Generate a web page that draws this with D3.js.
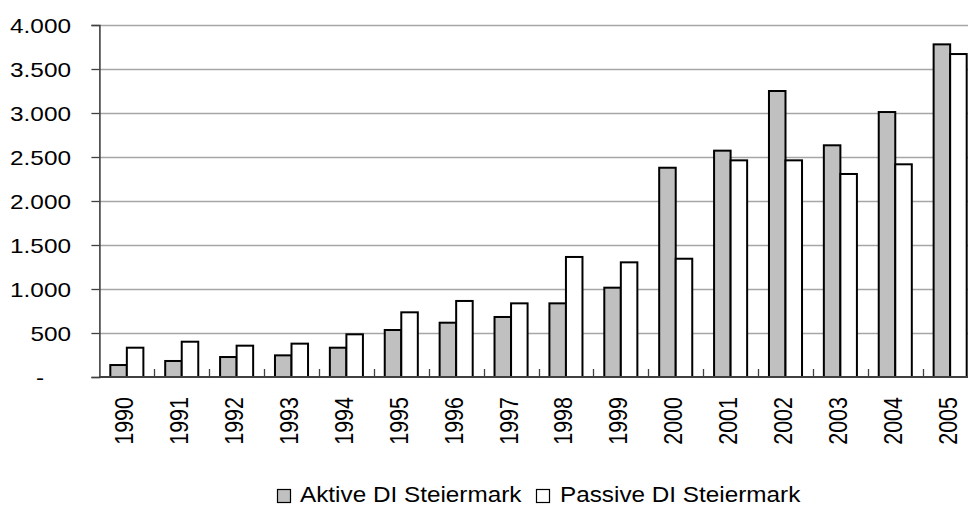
<!DOCTYPE html>
<html><head><meta charset="utf-8">
<script src="https://cdn.jsdelivr.net/npm/d3@7"></script>
<style>body{margin:0;background:#fff;}svg{display:block;font-family:"Liberation Sans",Arial,sans-serif;}</style>
</head><body>
<svg id="c" width="968" height="506"></svg>
<script>
const years = ["1990","1991","1992","1993","1994","1995","1996","1997","1998","1999","2000","2001","2002","2003","2004","2005"];
const aktive = [136,182,227,246,333,534,617,682,837,1015,2378,2572,3250,2633,3011,3780];
const passive = [333,401,356,379,485,735,864,837,1364,1303,1344,2462,2462,2307,2417,3670];
const seriesNames = ["Aktive DI Steiermark","Passive DI Steiermark"];
const yTicks = [0,500,1000,1500,2000,2500,3000,3500,4000];
const yTickLabels = ["-","500","1.000","1.500","2.000","2.500","3.000","3.500","4.000"];

const svg = d3.select("#c");
const mLeft = 99.4, mRight = 977.6, mTop = 25, mBottom = 377;
const y = d3.scaleLinear().domain([0,4000]).range([mBottom, mTop]);
const x0 = d3.scaleBand().domain(years).range([mLeft, mRight]).padding(0);
const x1 = d3.scaleBand().domain(seriesNames).range([0, x0.bandwidth()]).paddingInner(0).paddingOuter(0.66);
const fills = ["#c0c0c0","#ffffff"];

// gridlines
svg.append("g").selectAll("line").data(yTicks.filter(d=>d>0)).join("line")
  .attr("x1", mLeft).attr("x2", 968).attr("y1", d=>Math.round(y(d))+0.5).attr("y2", d=>Math.round(y(d))+0.5)
  .attr("stroke", "#a6a6a6").attr("stroke-width", 1.3);

// bars
const data = years.map((yr,i)=>({yr, vals:[aktive[i], passive[i]]}));
const g = svg.append("g").selectAll("g").data(data).join("g")
  .attr("transform", d=>`translate(${x0(d.yr)},0)`);
g.selectAll("rect").data(d=>d.vals.map((v,j)=>({v, s:seriesNames[j], j}))).join("rect")
  .attr("x", d=>x1(d.s)).attr("width", x1.bandwidth())
  .attr("y", d=>y(d.v)).attr("height", d=>mBottom - y(d.v))
  .attr("fill", d=>fills[d.j]).attr("stroke", "#000").attr("stroke-width", 2);

// y axis
const yAxis = d3.axisLeft(y).tickValues(yTicks).tickFormat((d,i)=>yTickLabels[i]).tickSize(8).tickPadding(20);
const ya = svg.append("g").attr("transform", `translate(${mLeft},0)`).call(yAxis);
ya.select(".domain").attr("stroke","#404040").attr("stroke-width",1.6);
ya.selectAll(".tick line").attr("stroke","#404040").attr("stroke-width",1.3);
ya.selectAll(".tick text").attr("font-size",21).attr("fill","#000")
  .attr("font-family","Liberation Sans, Arial, sans-serif")
  .attr("text-anchor","end")
  .attr("transform", "scale(1.16,1)")
  .attr("dy","0.36em")
  .attr("x", d => d===0 ? (44-mLeft)/1.16 : (71-mLeft)/1.16);

// x axis
svg.append("line").attr("x1",mLeft).attr("x2",968).attr("y1",mBottom).attr("y2",mBottom)
  .attr("stroke","#404040").attr("stroke-width",1.8);
svg.append("g").selectAll("line").data(years.slice(1)).join("line")
  .attr("x1", d=>Math.round(x0(d))+0.5).attr("x2", d=>Math.round(x0(d))+0.5)
  .attr("y1", mBottom).attr("y2", mBottom-8).attr("stroke","#404040").attr("stroke-width",1.3);

svg.append("g").selectAll("text").data(years).join("text")
  .attr("transform", d=>`translate(${x0(d)+x0.bandwidth()/2-2.5},397) rotate(-90) scale(1,1.16)`)
  .attr("text-anchor","end").attr("dy","0.36em")
  .attr("font-size",21.5).attr("fill","#000").text(d=>d);

// legend
const leg = svg.append("g");
const legItems = [{name:seriesNames[0], fill:fills[0], sx:277, tx:300},{name:seriesNames[1], fill:fills[1], sx:536, tx:560}];
leg.selectAll("rect").data(legItems).join("rect")
  .attr("x", d=>d.sx+0.5).attr("y", 489.5).attr("width", 13).attr("height", 13)
  .attr("fill", d=>d.fill).attr("stroke","#000").attr("stroke-width",1.2);
leg.selectAll("text").data(legItems).join("text")
  .attr("transform", d=>`translate(${d.tx},502) scale(1.13,1)`)
  .attr("font-size",21.5).attr("fill","#000").text(d=>d.name);
</script>
</body></html>
